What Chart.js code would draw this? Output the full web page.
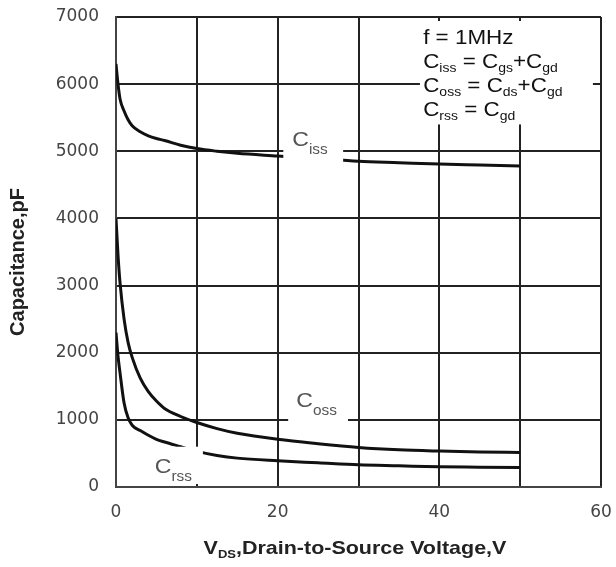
<!DOCTYPE html>
<html><head><meta charset="utf-8">
<script src="https://cdn.jsdelivr.net/npm/chart.js@4.4.0/dist/chart.umd.min.js"></script>
<style>html,body{margin:0;padding:0;background:#fff}</style>
</head><body>
<canvas id="c" width="616" height="567"></canvas>
<script>
// ---- data ----
const vdsValues  = [0, 0.25, 0.5, 1, 1.5, 2, 3, 4, 5, 6, 8, 10, 12.5, 15, 20, 25, 30, 35, 40, 45, 50];
const cissValues = [6300, 6000, 5780, 5600, 5470, 5380, 5290, 5230, 5190, 5160, 5090, 5040, 5000, 4970, 4930, 4890, 4850, 4830, 4810, 4795, 4780];
const cossValues = [4000, 3450, 3040, 2500, 2150, 1930, 1620, 1420, 1280, 1170, 1050, 960, 870, 800, 710, 645, 590, 555, 535, 520, 515];
const crssValues = [2300, 1950, 1700, 1250, 1030, 920, 840, 770, 710, 670, 600, 530, 470, 430, 390, 360, 330, 315, 300, 295, 290];
const xTickLabels = [0, 20, 40, 60];
const yTickLabels = [0, 1000, 2000, 3000, 4000, 5000, 6000, 7000];
const yTitle = 'Capacitance,pF';
const xTitleParts = [{t:'V'},{t:'DS',sub:true},{t:',Drain-to-Source Voltage,V'}];
const legendLines = [
  [{t:'f = 1MHz'}],
  [{t:'C'},{t:'iss',sub:true},{t:' = C'},{t:'gs',sub:true},{t:'+C'},{t:'gd',sub:true}],
  [{t:'C'},{t:'oss',sub:true},{t:' = C'},{t:'ds',sub:true},{t:'+C'},{t:'gd',sub:true}],
  [{t:'C'},{t:'rss',sub:true},{t:' = C'},{t:'gd',sub:true}]
];
const curveLabels = [
  {main:'C', sub:'iss', at:[21.8, 5075], box:[20.7, 5380, 28.1, 4830]},
  {main:'C', sub:'oss', at:[22.3, 1190], box:[21.3, 1500, 28.7, 900]},
  {main:'C', sub:'rss', at:[4.8, 210],  box:[4.0, 600, 10.75, 30]}
];

const FONT = '"Liberation Sans", Arial, Helvetica, sans-serif';
const TICKFONT = '"DejaVu Sans", "Liberation Sans", sans-serif';
const toXY = vals => vdsValues.map((v, i) => ({x: v, y: vals[i]}));

function drawRich(ctx, x, y, parts, size, subSize, subShift, color, sx, bold) {
  ctx.save();
  ctx.translate(x, y);
  ctx.scale(sx, 1);
  ctx.fillStyle = color;
  ctx.textBaseline = 'alphabetic';
  ctx.textAlign = 'left';
  let cx = 0;
  for (const p of parts) {
    ctx.font = (bold ? 'bold ' : '') + (p.sub ? subSize : size) + 'px ' + FONT;
    ctx.fillText(p.t, cx, p.sub ? subShift : 0);
    cx += ctx.measureText(p.t).width;
  }
  ctx.restore();
  return cx * sx;
}
function richWidth(ctx, parts, size, subSize, bold) {
  let w = 0;
  for (const p of parts) {
    ctx.font = (bold ? 'bold ' : '') + (p.sub ? subSize : size) + 'px ' + FONT;
    w += ctx.measureText(p.t).width;
  }
  return w;
}

const overlay = {
  id: 'overlay',
  afterDatasetsDraw(chart) {
    const {ctx, scales: {x, y}} = chart;
    ctx.save();
    ctx.fillStyle = '#fff';
    // legend text box (top right)
    const lx0 = x.getPixelForValue(37.6), lx1 = x.getPixelForValue(59.0);
    const ly0 = y.getPixelForValue(7000) + 4, ly1 = y.getPixelForValue(5400);
    ctx.fillRect(lx0, ly0, lx1 - lx0, ly1 - ly0);
    for (const L of curveLabels) {
      const bx0 = x.getPixelForValue(L.box[0]), by0 = y.getPixelForValue(L.box[1]);
      const bx1 = x.getPixelForValue(L.box[2]), by1 = Math.min(y.getPixelForValue(L.box[3]), y.getPixelForValue(0) - 3);
      ctx.fillRect(bx0, by0, bx1 - bx0, by1 - by0);
    }
    ctx.restore();
    for (const L of curveLabels) {
      drawRich(ctx, x.getPixelForValue(L.at[0]), y.getPixelForValue(L.at[1]),
        [{t:L.main},{t:L.sub,sub:true}], 21, 14, 8, '#555', 1.1, false);
    }
    const tx = x.getPixelForValue(38.0);
    const ty0 = y.getPixelForValue(7000) + 27;
    legendLines.forEach((parts, i) => {
      drawRich(ctx, tx, ty0 + i * 24, parts, 20, 12.5, 4, '#111', 1.12, false);
    });
  },
  afterDraw(chart) {
    const {ctx} = chart;
    const sx = 1.13;
    const w = richWidth(ctx, xTitleParts, 19, 11.5, true) * sx;
    drawRich(ctx, 355 - w / 2, 554, xTitleParts, 19, 11.5, 4, '#222', sx, true);
    // rotated y title
    ctx.save();
    ctx.translate(24, 262);
    ctx.rotate(-Math.PI / 2);
    ctx.font = 'bold 20px ' + FONT;
    ctx.fillStyle = '#222';
    ctx.textAlign = 'center';
    ctx.textBaseline = 'alphabetic';
    ctx.fillText(yTitle, 0, 0);
    ctx.restore();
  }
};

const lineStyle = {borderColor: '#111', borderWidth: 3, pointRadius: 0, fill: false,
  cubicInterpolationMode: 'monotone'};

new Chart(document.getElementById('c'), {
  type: 'line',
  data: {
    datasets: [
      Object.assign({label: 'Ciss', data: toXY(cissValues)}, lineStyle),
      Object.assign({label: 'Coss', data: toXY(cossValues)}, lineStyle),
      Object.assign({label: 'Crss', data: toXY(crssValues)}, lineStyle)
    ]
  },
  options: {
    responsive: false,
    animation: false,
    events: [],
    layout: {padding: {top: 17, right: 15, left: 0, bottom: 0}},
    plugins: {legend: {display: false}, tooltip: {enabled: false}},
    scales: {
      x: {
        type: 'linear', min: 0, max: 60,
        afterFit: s => { s.height = 80; s.paddingLeft = 0; s.paddingRight = 0; },
        afterBuildTicks: s => { s.ticks = [0,10,20,30,40,50,60].map(v => ({value: v})); },
        ticks: {
          autoSkip: false, maxRotation: 0, padding: 15,
          font: {size: 17, family: TICKFONT}, color: '#444',
          callback: v => xTickLabels.includes(v) ? String(v) : ''
        },
        grid: {color: '#222', lineWidth: 2, drawTicks: false},
        border: {color: '#444', width: 2}
      },
      y: {
        min: 0, max: 7000,
        afterFit: s => { s.width = 116; s.paddingTop = 0; s.paddingBottom = 0; },
        afterBuildTicks: s => { s.ticks = yTickLabels.map(v => ({value: v})); },
        ticks: {
          autoSkip: false, padding: 17,
          font: {size: 17, family: TICKFONT}, color: '#444',
          callback: v => String(v)
        },
        title: {display: false},
        grid: {color: '#222', lineWidth: 2, drawTicks: false},
        border: {color: '#444', width: 2}
      }
    }
  },
  plugins: [overlay]
});
</script>
</body></html>
